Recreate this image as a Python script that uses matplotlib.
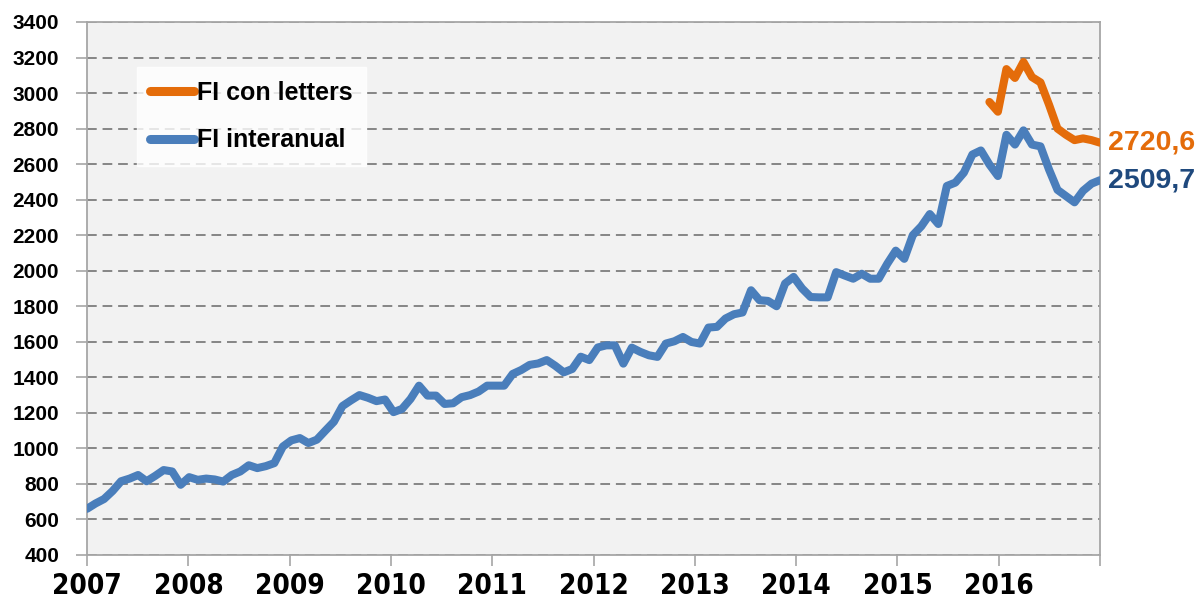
import numpy as np
import matplotlib
matplotlib.use("Agg")
import matplotlib.pyplot as plt
from matplotlib import font_manager

# serie mensual ene-2007 .. dic-2016
fi_interanual = [
    660, 690, 715, 760, 815, 830, 850, 815, 845, 878, 870, 795,          # 2007
    838, 823, 830, 825, 813, 850, 870, 905, 889, 900, 917, 1010,         # 2008
    1045, 1058, 1030, 1049, 1100, 1150, 1238, 1270, 1300, 1285, 1266, 1275,  # 2009
    1204, 1222, 1278, 1353, 1297, 1297, 1250, 1254, 1288, 1300, 1320, 1353,  # 2010
    1353, 1353, 1419, 1441, 1470, 1478, 1497, 1465, 1428, 1447, 1516, 1497,  # 2011
    1568, 1580, 1580, 1477, 1567, 1543, 1524, 1515, 1590, 1603, 1627, 1599,  # 2012
    1590, 1680, 1684, 1731, 1755, 1765, 1890, 1834, 1830, 1800, 1928, 1965,  # 2013
    1900, 1852, 1850, 1850, 1992, 1973, 1955, 1983, 1955, 1955, 2039, 2113,  # 2014
    2067, 2200, 2250, 2319, 2263, 2477, 2496, 2552, 2654, 2677, 2598, 2533,  # 2015
    2765, 2710, 2790, 2710, 2700, 2570, 2455, 2420, 2385, 2450, 2490, 2509.7,  # 2016
]
# nov-2015 .. dic-2016
fi_letters = [2950, 2895, 3135, 3085, 3175, 3090, 3060, 2935, 2800, 2765,
              2735, 2745, 2735, 2720.6]
years = list(range(2007, 2017))

naranja = "#E46C0A"
azul = "#4A7EBB"

# fuente estrecha para el eje x si existe
nombres = {f.name for f in font_manager.fontManager.ttflist}
condensadas = [f for f in font_manager.fontManager.ttflist
               if f.name == "DejaVu Sans" and "condensed" in str(f.stretch)]
if "Liberation Sans Narrow" in nombres:
    xfont = dict(family="Liberation Sans Narrow", size=23)
elif condensadas:
    xfont = dict(family="DejaVu Sans", stretch="condensed", size=20)
else:
    xfont = dict(family="Liberation Sans", size=20)

n = len(fi_interanual)
x = np.linspace(2007, 2017, n)
x_let = x[n - len(fi_letters):]

fig = plt.figure(figsize=(12.02, 6.06), dpi=100)
ax = fig.add_axes([0.0724, 0.0842, 0.8428, 0.8795])
ax.set_facecolor("#F2F2F2")

ax.plot(x_let, fi_letters, color=naranja, lw=5.8, solid_capstyle="round",
        solid_joinstyle="round", label="FI con letters", zorder=3)
ax.plot(x, fi_interanual, color=azul, lw=5.8, solid_capstyle="round",
        solid_joinstyle="round", label="FI interanual", zorder=3)

ax.set_xlim(2007, 2017)
ax.set_ylim(400, 3400)
ax.set_yticks(range(400, 3401, 200))
ax.set_xticks(years + [2017])
ax.set_xticklabels([str(y) for y in years] + [""])

ax.grid(axis="y", color="#868686", ls=(0, (5, 3)), lw=1.4)
ax.set_axisbelow(True)
for s in ax.spines.values():
    s.set_color("#A6A6A6")
    s.set_linewidth(1.3)

ax.tick_params(axis="y", length=8, color="#A6A6A6", width=1.2, pad=12)
ax.tick_params(axis="x", length=8, color="#A6A6A6", width=1.2, pad=4)
for t in ax.get_yticklabels():
    t.set_fontfamily(["Liberation Sans"])
    t.set_fontsize(15)
    t.set_fontweight("bold")
for t in ax.get_xticklabels():
    t.set_fontfamily([xfont["family"], "Liberation Sans"])
    t.set_fontsize(xfont["size"])
    if "stretch" in xfont:
        t.set_fontstretch(xfont["stretch"])
    t.set_fontweight("bold")
    t.set_horizontalalignment("center")

leg = ax.legend(loc="upper left", bbox_to_anchor=(0.049, 0.916), borderaxespad=0,
                frameon=True, fancybox=False, handlelength=1.75, handletextpad=0.1,
                labelspacing=0.95, borderpad=0.55,
                prop={"family": "Liberation Sans", "weight": "bold", "size": 18})
leg.get_frame().set_facecolor("white")
leg.get_frame().set_edgecolor("white")
for h in leg.get_lines():
    h.set_linewidth(6.5)

ax.annotate(f"{fi_letters[-1]:.1f}".replace(".", ","), xy=(x[-1], fi_letters[-1]),
            xytext=(6, 0), textcoords="offset points", ha="left", va="center",
            color=naranja, fontsize=20.5, fontweight="bold", family="Liberation Sans",
            annotation_clip=False)
ax.annotate(f"{fi_interanual[-1]:.1f}".replace(".", ","), xy=(x[-1], fi_interanual[-1]),
            xytext=(6, 0), textcoords="offset points", ha="left", va="center",
            color="#1F497D", fontsize=20.5, fontweight="bold", family="Liberation Sans",
            annotation_clip=False)

fig.savefig("out.png", dpi=100, facecolor="white")
